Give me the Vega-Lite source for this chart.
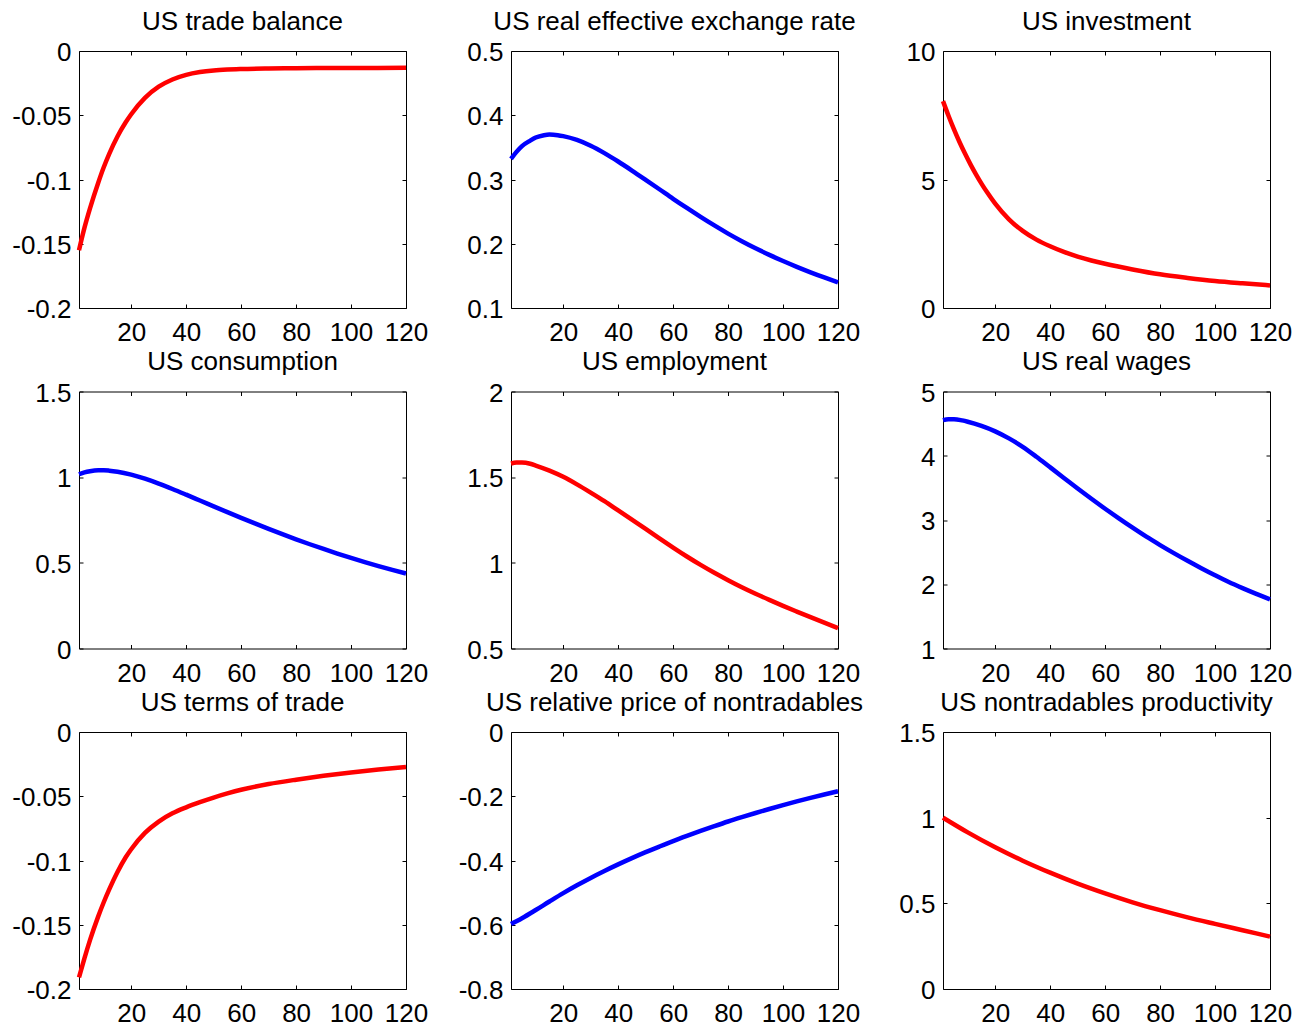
{
  "$schema": "https://vega.github.io/schema/vega-lite/v6.json",
  "background": "#ffffff",
  "padding": {"left": 11, "top": 8, "right": 5, "bottom": 5},
  "bounds": "flush",
  "columns": 3,
  "spacing": {"row": 83.5, "column": 105},
  "config": {
    "font": "Liberation Sans",
    "view": {"stroke": "#000000", "strokeWidth": 1},
    "axis": {
      "domain": false,
      "grid": false,
      "ticks": true,
      "tickColor": "#000000",
      "tickSize": -4,
      "tickWidth": 1,
      "labelFont": "Liberation Sans",
      "labelFontSize": 26,
      "labelColor": "#000000",
      "labelFlush": false,
      "labelOverlap": false
    },
    "axisX": {"labelPadding": 15.5},
    "axisY": {"labelPadding": 12, "labelOffset": 1.5},
    "title": {
      "font": "Liberation Sans",
      "fontSize": 26,
      "fontWeight": "normal",
      "color": "#000000",
      "frame": "group",
      "anchor": "middle",
      "baseline": "alphabetic",
      "offset": 5
    }
  },
  "datasets": {
    "tb": [
      {"t": 1, "v": -0.155}, {"t": 3, "v": -0.1375}, {"t": 5, "v": -0.1225}, {"t": 8, "v": -0.1025},
      {"t": 10, "v": -0.0905}, {"t": 12, "v": -0.08}, {"t": 15, "v": -0.0665}, {"t": 18, "v": -0.0555},
      {"t": 20, "v": -0.0492}, {"t": 25, "v": -0.0365}, {"t": 30, "v": -0.0278}, {"t": 35, "v": -0.0222},
      {"t": 40, "v": -0.0186}, {"t": 45, "v": -0.0164}, {"t": 50, "v": -0.0151}, {"t": 55, "v": -0.0144},
      {"t": 60, "v": -0.014}, {"t": 70, "v": -0.0136}, {"t": 80, "v": -0.0134}, {"t": 100, "v": -0.0132},
      {"t": 120, "v": -0.0131}
    ],
    "reer": [
      {"t": 1, "v": 0.332}, {"t": 3, "v": 0.343}, {"t": 5, "v": 0.352}, {"t": 8, "v": 0.3605},
      {"t": 10, "v": 0.3653}, {"t": 13, "v": 0.369}, {"t": 15, "v": 0.37}, {"t": 18, "v": 0.369},
      {"t": 20, "v": 0.3675}, {"t": 25, "v": 0.3615}, {"t": 30, "v": 0.3525}, {"t": 35, "v": 0.341},
      {"t": 40, "v": 0.328}, {"t": 45, "v": 0.314}, {"t": 50, "v": 0.2995}, {"t": 55, "v": 0.2848},
      {"t": 60, "v": 0.27}, {"t": 65, "v": 0.2557}, {"t": 70, "v": 0.2418}, {"t": 75, "v": 0.2285},
      {"t": 80, "v": 0.2158}, {"t": 85, "v": 0.204}, {"t": 90, "v": 0.193}, {"t": 95, "v": 0.1827},
      {"t": 100, "v": 0.1731}, {"t": 105, "v": 0.1641}, {"t": 110, "v": 0.1556}, {"t": 115, "v": 0.1476},
      {"t": 120, "v": 0.14}
    ],
    "inv": [
      {"t": 1, "v": 8.05}, {"t": 3, "v": 7.48}, {"t": 5, "v": 6.95}, {"t": 7, "v": 6.46},
      {"t": 9, "v": 6.01}, {"t": 11, "v": 5.59}, {"t": 13, "v": 5.2}, {"t": 15, "v": 4.84},
      {"t": 17, "v": 4.51}, {"t": 20, "v": 4.06}, {"t": 25, "v": 3.45}, {"t": 30, "v": 3.0},
      {"t": 35, "v": 2.66}, {"t": 40, "v": 2.4}, {"t": 45, "v": 2.18}, {"t": 50, "v": 2.0},
      {"t": 55, "v": 1.85}, {"t": 60, "v": 1.72}, {"t": 70, "v": 1.5}, {"t": 80, "v": 1.31},
      {"t": 90, "v": 1.17}, {"t": 100, "v": 1.05}, {"t": 110, "v": 0.96}, {"t": 120, "v": 0.88}
    ],
    "cons": [
      {"t": 1, "v": 1.017}, {"t": 3, "v": 1.028}, {"t": 5, "v": 1.035}, {"t": 8, "v": 1.04},
      {"t": 10, "v": 1.04}, {"t": 12, "v": 1.038}, {"t": 15, "v": 1.032}, {"t": 20, "v": 1.015},
      {"t": 25, "v": 0.991}, {"t": 30, "v": 0.9625}, {"t": 35, "v": 0.931}, {"t": 40, "v": 0.8977},
      {"t": 45, "v": 0.8637}, {"t": 50, "v": 0.8296}, {"t": 55, "v": 0.7958}, {"t": 60, "v": 0.7625},
      {"t": 65, "v": 0.7299}, {"t": 70, "v": 0.6981}, {"t": 75, "v": 0.6672}, {"t": 80, "v": 0.6373},
      {"t": 85, "v": 0.6085}, {"t": 90, "v": 0.5808}, {"t": 95, "v": 0.5542}, {"t": 100, "v": 0.5287},
      {"t": 105, "v": 0.5043}, {"t": 110, "v": 0.481}, {"t": 115, "v": 0.4588}, {"t": 120, "v": 0.4377}
    ],
    "emp": [
      {"t": 1, "v": 1.58}, {"t": 3, "v": 1.585}, {"t": 5, "v": 1.585}, {"t": 8, "v": 1.578},
      {"t": 10, "v": 1.568}, {"t": 15, "v": 1.538}, {"t": 20, "v": 1.502}, {"t": 25, "v": 1.458},
      {"t": 30, "v": 1.41}, {"t": 35, "v": 1.36}, {"t": 40, "v": 1.306}, {"t": 45, "v": 1.252},
      {"t": 50, "v": 1.198}, {"t": 55, "v": 1.143}, {"t": 60, "v": 1.089}, {"t": 65, "v": 1.037},
      {"t": 70, "v": 0.988}, {"t": 75, "v": 0.942}, {"t": 80, "v": 0.899}, {"t": 85, "v": 0.858},
      {"t": 90, "v": 0.82}, {"t": 95, "v": 0.784}, {"t": 100, "v": 0.749}, {"t": 105, "v": 0.7155},
      {"t": 110, "v": 0.6827}, {"t": 115, "v": 0.6506}, {"t": 120, "v": 0.6193}
    ],
    "wage": [
      {"t": 1, "v": 4.555}, {"t": 3, "v": 4.57}, {"t": 5, "v": 4.57}, {"t": 8, "v": 4.55},
      {"t": 10, "v": 4.53}, {"t": 15, "v": 4.465}, {"t": 20, "v": 4.38}, {"t": 25, "v": 4.27},
      {"t": 30, "v": 4.14}, {"t": 35, "v": 3.985}, {"t": 40, "v": 3.82}, {"t": 45, "v": 3.655},
      {"t": 50, "v": 3.49}, {"t": 55, "v": 3.33}, {"t": 60, "v": 3.175}, {"t": 65, "v": 3.025},
      {"t": 70, "v": 2.88}, {"t": 75, "v": 2.74}, {"t": 80, "v": 2.61}, {"t": 85, "v": 2.485},
      {"t": 90, "v": 2.365}, {"t": 95, "v": 2.25}, {"t": 100, "v": 2.14}, {"t": 105, "v": 2.035},
      {"t": 110, "v": 1.94}, {"t": 115, "v": 1.85}, {"t": 120, "v": 1.765}
    ],
    "tot": [
      {"t": 1, "v": -0.191}, {"t": 3, "v": -0.176}, {"t": 5, "v": -0.162}, {"t": 8, "v": -0.1435},
      {"t": 10, "v": -0.1325}, {"t": 12, "v": -0.1225}, {"t": 15, "v": -0.109}, {"t": 18, "v": -0.0975},
      {"t": 20, "v": -0.0912}, {"t": 25, "v": -0.0785}, {"t": 30, "v": -0.0697}, {"t": 35, "v": -0.0633},
      {"t": 40, "v": -0.0586}, {"t": 45, "v": -0.0546}, {"t": 50, "v": -0.051}, {"t": 55, "v": -0.0478},
      {"t": 60, "v": -0.0449}, {"t": 70, "v": -0.0405}, {"t": 80, "v": -0.0371}, {"t": 90, "v": -0.0341},
      {"t": 100, "v": -0.0315}, {"t": 110, "v": -0.0292}, {"t": 120, "v": -0.0272}
    ],
    "rpn": [
      {"t": 1, "v": -0.598}, {"t": 5, "v": -0.5796}, {"t": 10, "v": -0.5541}, {"t": 15, "v": -0.5276},
      {"t": 20, "v": -0.5016}, {"t": 25, "v": -0.4771}, {"t": 30, "v": -0.4541}, {"t": 35, "v": -0.4326},
      {"t": 40, "v": -0.4121}, {"t": 45, "v": -0.3926}, {"t": 50, "v": -0.3741}, {"t": 55, "v": -0.3566},
      {"t": 60, "v": -0.3396}, {"t": 65, "v": -0.3236}, {"t": 70, "v": -0.3081}, {"t": 75, "v": -0.2931},
      {"t": 80, "v": -0.2786}, {"t": 85, "v": -0.2651}, {"t": 90, "v": -0.2521}, {"t": 95, "v": -0.2396},
      {"t": 100, "v": -0.2276}, {"t": 105, "v": -0.2161}, {"t": 110, "v": -0.2051}, {"t": 115, "v": -0.1946},
      {"t": 120, "v": -0.1846}
    ],
    "prod": [
      {"t": 1, "v": 1.0}, {"t": 10, "v": 0.914}, {"t": 20, "v": 0.827}, {"t": 30, "v": 0.749},
      {"t": 40, "v": 0.679}, {"t": 50, "v": 0.615}, {"t": 60, "v": 0.558}, {"t": 70, "v": 0.506},
      {"t": 80, "v": 0.46}, {"t": 90, "v": 0.418}, {"t": 100, "v": 0.38}, {"t": 110, "v": 0.343},
      {"t": 120, "v": 0.306}
    ]
  },
  "concat": [
    {
      "title": "US trade balance", "width": 327, "height": 257, "data": {"name": "tb"},
      "layer": [
        {"mark": {"type": "line", "color": "#ff0000", "strokeWidth": 4.5, "interpolate": "monotone"},
         "encoding": {
           "x": {"field": "t", "type": "quantitative", "scale": {"domain": [1, 120], "nice": false, "zero": false}, "axis": {"orient": "bottom", "values": [20, 40, 60, 80, 100, 120], "title": null}},
           "y": {"field": "v", "type": "quantitative", "scale": {"domain": [-0.2, 0], "nice": false, "zero": false}, "axis": {"orient": "left", "values": [-0.2, -0.15, -0.1, -0.05, 0], "labelExpr": "'' + datum.value", "title": null}}}},
        {"mark": {"type": "line", "opacity": 0},
         "encoding": {
           "x": {"field": "t", "type": "quantitative", "axis": {"orient": "top", "values": [20, 40, 60, 80, 100, 120], "labels": false, "title": null}},
           "y": {"field": "v", "type": "quantitative", "axis": {"orient": "right", "values": [-0.2, -0.15, -0.1, -0.05, 0], "labels": false, "title": null}}}}
      ],
      "resolve": {"axis": {"x": "independent", "y": "independent"}}
    },
    {
      "title": "US real effective exchange rate", "width": 327, "height": 257, "data": {"name": "reer"},
      "layer": [
        {"mark": {"type": "line", "color": "#0000ff", "strokeWidth": 4.5, "interpolate": "monotone"},
         "encoding": {
           "x": {"field": "t", "type": "quantitative", "scale": {"domain": [1, 120], "nice": false, "zero": false}, "axis": {"orient": "bottom", "values": [20, 40, 60, 80, 100, 120], "title": null}},
           "y": {"field": "v", "type": "quantitative", "scale": {"domain": [0.1, 0.5], "nice": false, "zero": false}, "axis": {"orient": "left", "values": [0.1, 0.2, 0.3, 0.4, 0.5], "labelExpr": "'' + datum.value", "title": null}}}},
        {"mark": {"type": "line", "opacity": 0},
         "encoding": {
           "x": {"field": "t", "type": "quantitative", "axis": {"orient": "top", "values": [20, 40, 60, 80, 100, 120], "labels": false, "title": null}},
           "y": {"field": "v", "type": "quantitative", "axis": {"orient": "right", "values": [0.1, 0.2, 0.3, 0.4, 0.5], "labels": false, "title": null}}}}
      ],
      "resolve": {"axis": {"x": "independent", "y": "independent"}}
    },
    {
      "title": "US investment", "width": 327, "height": 257, "data": {"name": "inv"},
      "layer": [
        {"mark": {"type": "line", "color": "#ff0000", "strokeWidth": 4.5, "interpolate": "monotone"},
         "encoding": {
           "x": {"field": "t", "type": "quantitative", "scale": {"domain": [1, 120], "nice": false, "zero": false}, "axis": {"orient": "bottom", "values": [20, 40, 60, 80, 100, 120], "title": null}},
           "y": {"field": "v", "type": "quantitative", "scale": {"domain": [0, 10], "nice": false, "zero": false}, "axis": {"orient": "left", "values": [0, 5, 10], "labelExpr": "'' + datum.value", "title": null}}}},
        {"mark": {"type": "line", "opacity": 0},
         "encoding": {
           "x": {"field": "t", "type": "quantitative", "axis": {"orient": "top", "values": [20, 40, 60, 80, 100, 120], "labels": false, "title": null}},
           "y": {"field": "v", "type": "quantitative", "axis": {"orient": "right", "values": [0, 5, 10], "labels": false, "title": null}}}}
      ],
      "resolve": {"axis": {"x": "independent", "y": "independent"}}
    },
    {
      "title": "US consumption", "width": 327, "height": 257, "data": {"name": "cons"},
      "layer": [
        {"mark": {"type": "line", "color": "#0000ff", "strokeWidth": 4.5, "interpolate": "monotone"},
         "encoding": {
           "x": {"field": "t", "type": "quantitative", "scale": {"domain": [1, 120], "nice": false, "zero": false}, "axis": {"orient": "bottom", "values": [20, 40, 60, 80, 100, 120], "title": null}},
           "y": {"field": "v", "type": "quantitative", "scale": {"domain": [0, 1.5], "nice": false, "zero": false}, "axis": {"orient": "left", "values": [0, 0.5, 1, 1.5], "labelExpr": "'' + datum.value", "title": null}}}},
        {"mark": {"type": "line", "opacity": 0},
         "encoding": {
           "x": {"field": "t", "type": "quantitative", "axis": {"orient": "top", "values": [20, 40, 60, 80, 100, 120], "labels": false, "title": null}},
           "y": {"field": "v", "type": "quantitative", "axis": {"orient": "right", "values": [0, 0.5, 1, 1.5], "labels": false, "title": null}}}}
      ],
      "resolve": {"axis": {"x": "independent", "y": "independent"}}
    },
    {
      "title": "US employment", "width": 327, "height": 257, "data": {"name": "emp"},
      "layer": [
        {"mark": {"type": "line", "color": "#ff0000", "strokeWidth": 4.5, "interpolate": "monotone"},
         "encoding": {
           "x": {"field": "t", "type": "quantitative", "scale": {"domain": [1, 120], "nice": false, "zero": false}, "axis": {"orient": "bottom", "values": [20, 40, 60, 80, 100, 120], "title": null}},
           "y": {"field": "v", "type": "quantitative", "scale": {"domain": [0.5, 2], "nice": false, "zero": false}, "axis": {"orient": "left", "values": [0.5, 1, 1.5, 2], "labelExpr": "'' + datum.value", "title": null}}}},
        {"mark": {"type": "line", "opacity": 0},
         "encoding": {
           "x": {"field": "t", "type": "quantitative", "axis": {"orient": "top", "values": [20, 40, 60, 80, 100, 120], "labels": false, "title": null}},
           "y": {"field": "v", "type": "quantitative", "axis": {"orient": "right", "values": [0.5, 1, 1.5, 2], "labels": false, "title": null}}}}
      ],
      "resolve": {"axis": {"x": "independent", "y": "independent"}}
    },
    {
      "title": "US real wages", "width": 327, "height": 257, "data": {"name": "wage"},
      "layer": [
        {"mark": {"type": "line", "color": "#0000ff", "strokeWidth": 4.5, "interpolate": "monotone"},
         "encoding": {
           "x": {"field": "t", "type": "quantitative", "scale": {"domain": [1, 120], "nice": false, "zero": false}, "axis": {"orient": "bottom", "values": [20, 40, 60, 80, 100, 120], "title": null}},
           "y": {"field": "v", "type": "quantitative", "scale": {"domain": [1, 5], "nice": false, "zero": false}, "axis": {"orient": "left", "values": [1, 2, 3, 4, 5], "labelExpr": "'' + datum.value", "title": null}}}},
        {"mark": {"type": "line", "opacity": 0},
         "encoding": {
           "x": {"field": "t", "type": "quantitative", "axis": {"orient": "top", "values": [20, 40, 60, 80, 100, 120], "labels": false, "title": null}},
           "y": {"field": "v", "type": "quantitative", "axis": {"orient": "right", "values": [1, 2, 3, 4, 5], "labels": false, "title": null}}}}
      ],
      "resolve": {"axis": {"x": "independent", "y": "independent"}}
    },
    {
      "title": "US terms of trade", "width": 327, "height": 257, "data": {"name": "tot"},
      "layer": [
        {"mark": {"type": "line", "color": "#ff0000", "strokeWidth": 4.5, "interpolate": "monotone"},
         "encoding": {
           "x": {"field": "t", "type": "quantitative", "scale": {"domain": [1, 120], "nice": false, "zero": false}, "axis": {"orient": "bottom", "values": [20, 40, 60, 80, 100, 120], "title": null}},
           "y": {"field": "v", "type": "quantitative", "scale": {"domain": [-0.2, 0], "nice": false, "zero": false}, "axis": {"orient": "left", "values": [-0.2, -0.15, -0.1, -0.05, 0], "labelExpr": "'' + datum.value", "title": null}}}},
        {"mark": {"type": "line", "opacity": 0},
         "encoding": {
           "x": {"field": "t", "type": "quantitative", "axis": {"orient": "top", "values": [20, 40, 60, 80, 100, 120], "labels": false, "title": null}},
           "y": {"field": "v", "type": "quantitative", "axis": {"orient": "right", "values": [-0.2, -0.15, -0.1, -0.05, 0], "labels": false, "title": null}}}}
      ],
      "resolve": {"axis": {"x": "independent", "y": "independent"}}
    },
    {
      "title": "US relative price of nontradables", "width": 327, "height": 257, "data": {"name": "rpn"},
      "layer": [
        {"mark": {"type": "line", "color": "#0000ff", "strokeWidth": 4.5, "interpolate": "monotone"},
         "encoding": {
           "x": {"field": "t", "type": "quantitative", "scale": {"domain": [1, 120], "nice": false, "zero": false}, "axis": {"orient": "bottom", "values": [20, 40, 60, 80, 100, 120], "title": null}},
           "y": {"field": "v", "type": "quantitative", "scale": {"domain": [-0.8, 0], "nice": false, "zero": false}, "axis": {"orient": "left", "values": [-0.8, -0.6, -0.4, -0.2, 0], "labelExpr": "'' + datum.value", "title": null}}}},
        {"mark": {"type": "line", "opacity": 0},
         "encoding": {
           "x": {"field": "t", "type": "quantitative", "axis": {"orient": "top", "values": [20, 40, 60, 80, 100, 120], "labels": false, "title": null}},
           "y": {"field": "v", "type": "quantitative", "axis": {"orient": "right", "values": [-0.8, -0.6, -0.4, -0.2, 0], "labels": false, "title": null}}}}
      ],
      "resolve": {"axis": {"x": "independent", "y": "independent"}}
    },
    {
      "title": "US nontradables productivity", "width": 327, "height": 257, "data": {"name": "prod"},
      "layer": [
        {"mark": {"type": "line", "color": "#ff0000", "strokeWidth": 4.5, "interpolate": "monotone"},
         "encoding": {
           "x": {"field": "t", "type": "quantitative", "scale": {"domain": [1, 120], "nice": false, "zero": false}, "axis": {"orient": "bottom", "values": [20, 40, 60, 80, 100, 120], "title": null}},
           "y": {"field": "v", "type": "quantitative", "scale": {"domain": [0, 1.5], "nice": false, "zero": false}, "axis": {"orient": "left", "values": [0, 0.5, 1, 1.5], "labelExpr": "'' + datum.value", "title": null}}}},
        {"mark": {"type": "line", "opacity": 0},
         "encoding": {
           "x": {"field": "t", "type": "quantitative", "axis": {"orient": "top", "values": [20, 40, 60, 80, 100, 120], "labels": false, "title": null}},
           "y": {"field": "v", "type": "quantitative", "axis": {"orient": "right", "values": [0, 0.5, 1, 1.5], "labels": false, "title": null}}}}
      ],
      "resolve": {"axis": {"x": "independent", "y": "independent"}}
    }
  ]
}
